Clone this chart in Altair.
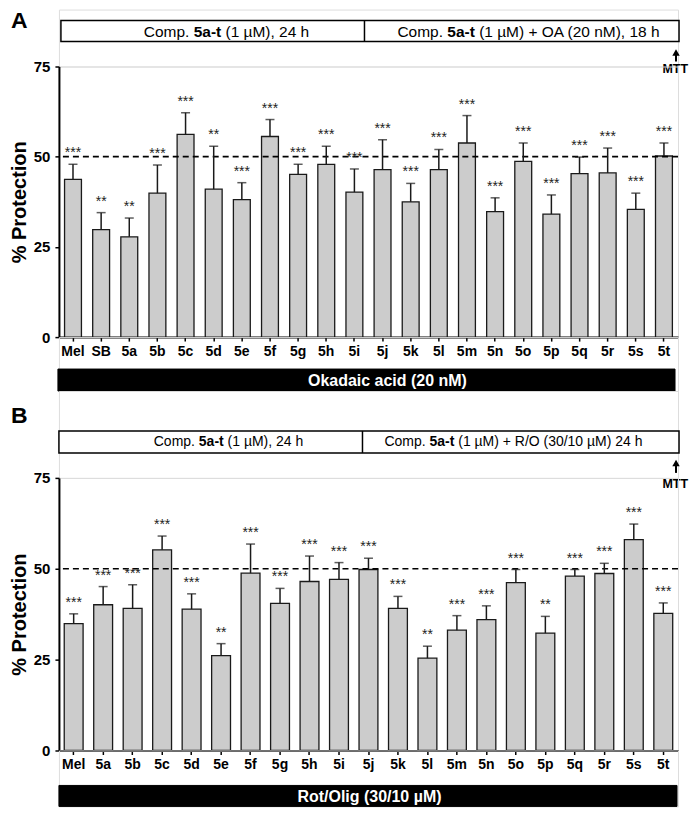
import altair as alt
import pandas as pd

FONT = "Liberation Sans, Arial, Helvetica, sans-serif"

# ---------------- data ----------------
labels_A = ["Mel", "SB", "5a", "5b", "5c", "5d", "5e", "5f", "5g", "5h", "5i",
            "5j", "5k", "5l", "5m", "5n", "5o", "5p", "5q", "5r", "5s", "5t"]
mean_A = [43.7, 29.8, 27.8, 39.9, 56.2, 41.0, 38.1, 55.6, 45.1, 47.9, 40.2,
          46.4, 37.5, 46.4, 53.8, 34.8, 48.7, 34.1, 45.3, 45.5, 35.4, 50.2]
err_A = [4.2, 4.7, 5.2, 7.8, 6.0, 11.9, 4.7, 4.7, 2.8, 5.0, 6.4,
         8.3, 5.1, 5.6, 7.6, 3.8, 5.1, 5.3, 4.6, 6.9, 4.5, 3.6]
sig_A = ["***", "**", "**", "***", "***", "**", "***", "***", "***", "***", "***",
         "***", "***", "***", "***", "***", "***", "***", "***", "***", "***", "***"]

labels_B = ["Mel", "5a", "5b", "5c", "5d", "5e", "5f", "5g", "5h", "5i", "5j",
            "5k", "5l", "5m", "5n", "5o", "5p", "5q", "5r", "5s", "5t"]
mean_B = [34.9, 40.1, 39.1, 55.2, 38.9, 26.1, 48.8, 40.5, 46.5, 47.1, 49.8,
          39.1, 25.4, 33.1, 36.0, 46.2, 32.3, 48.0, 48.7, 58.0, 37.7]
err_B = [2.7, 5.0, 6.5, 3.8, 4.2, 3.3, 8.0, 4.1, 7.0, 4.6, 3.1,
         3.3, 3.3, 4.0, 3.8, 3.6, 4.6, 1.8, 2.8, 4.3, 2.9]
sig_B = ["***", "***", "***", "***", "***", "**", "***", "***", "***", "***", "***",
         "***", "**", "***", "***", "***", "**", "***", "***", "***", "***"]

y_ticks = [0, 25, 50, 75]
threshold = [50]

header_A = [("Comp. ", False), ("5a-t", True), (" (1 \u00b5M), 24 h", False)]
header_A2 = [("Comp. ", False), ("5a-t", True), (" (1 \u00b5M) +  OA (20 nM), 18 h", False)]
header_B = [("Comp. ", False), ("5a-t", True), (" (1 \u00b5M), 24 h", False)]
header_B2 = [("Comp. ", False), ("5a-t", True), (" (1 \u00b5M) + R/O (30/10 \u00b5M) 24 h", False)]

W = 620

# approximate Arial advance widths (per 1000 em) used to chain text pieces
REG = {'C': 722, 'o': 556, 'm': 833, 'p': 556, '.': 278, ' ': 278, '(': 333, ')': 333,
       '\u00b5': 576, 'M': 833, ',': 278, 'h': 556, '+': 584, 'O': 778, 'A': 667,
       'n': 556, 'R': 722, '/': 278}
BOLD = {'5': 556, 'a': 556, '-': 333, 't': 333, ' ': 278}


def text_width(s, fs, bold):
    tbl = BOLD if bold else REG
    return sum(tbl.get(ch, 556) for ch in s) * fs / 1000.0


def one():
    return alt.Chart(pd.DataFrame({"k": [0]}))


def bar_panel(labels, means, errs, sigs, height, pad_inner):
    df = pd.DataFrame({
        "label": labels,
        "mean": means,
        "top": [m + e for m, e in zip(means, errs)],
        "sig": sigs,
    })
    xenc = alt.X(
        "label:N", sort=labels,
        scale=alt.Scale(paddingInner=pad_inner, paddingOuter=pad_inner / 2),
        axis=alt.Axis(title=None, labelAngle=0, labelFontSize=14, labelFontWeight="bold",
                      labelColor="black", labelFont=FONT, tickColor="black", tickSize=4,
                      tickWidth=1.5, domainColor="black", domainWidth=2, labelPadding=3),
    )
    yenc = alt.Y(
        "mean:Q",
        scale=alt.Scale(domain=[0, 75], nice=False),
        axis=alt.Axis(values=y_ticks, title="% Protection", titleFontSize=20,
                      titleFontWeight="bold", titleColor="black", titleFont=FONT,
                      titlePadding=4, labelFontSize=15, labelFontWeight="bold",
                      labelColor="black", labelFont=FONT, tickColor="black", tickSize=4,
                      tickWidth=1.5, domainColor="black", domainWidth=2, labelPadding=5,
                      grid=False),
    )
    xs = alt.X("label:N", sort=labels)
    base = alt.Chart(df)
    bars = base.mark_bar(fill="#cccccc", stroke="#1a1a1a", strokeWidth=1.3).encode(x=xenc, y=yenc)
    err = base.mark_rule(color="#1a1a1a", strokeWidth=1.5).encode(x=xs, y="mean:Q", y2="top:Q")
    cap = base.mark_tick(color="#1a1a1a", thickness=1.5, size=9).encode(x=xs, y="top:Q")
    stars = base.mark_text(dy=-7, baseline="alphabetic", fontSize=14, font=FONT,
                           color="#222222").encode(x=xs, y="top:Q", text="sig:N")
    ref = alt.Chart(pd.DataFrame({"v": threshold})).mark_rule(
        strokeDash=[6, 4], strokeWidth=1.7, color="black").encode(y="v:Q")
    return alt.layer(bars, ref, err, cap, stars).properties(width=W, height=height)


def header(letter, letter_y, y0, y1, x0, x1, xdiv, halves, fs, ay0, ay1, mtt_y, height):
    layers = [
        one().mark_text(align="left", baseline="top", fontSize=23, fontWeight="bold",
                        font=FONT, color="black").encode(
            x=alt.value(-48), y=alt.value(letter_y), text=alt.value(letter)),
        one().mark_rect(fill="white", stroke="black", strokeWidth=1.5).encode(
            x=alt.value(x0), x2=alt.value(x1), y=alt.value(y0), y2=alt.value(y1)),
        one().mark_rule(color="black", strokeWidth=1.5).encode(
            x=alt.value(xdiv), y=alt.value(y0), y2=alt.value(y1)),
    ]
    ym = (y0 + y1) / 2 + 0.5
    for start, pieces in halves:
        px = start
        for txt, bold in pieces:
            lead = len(txt) - len(txt.lstrip(" "))
            shown = txt.strip(" ")
            x_here = px + text_width(" " * lead, fs, bold)
            layers.append(one().mark_text(align="left", baseline="middle", fontSize=fs,
                                          fontWeight="bold" if bold else "normal",
                                          font=FONT, color="black").encode(
                x=alt.value(x_here), y=alt.value(ym), text=alt.value(shown)))
            px += text_width(txt, fs, bold)
    ax = W - 2
    layers += [
        one().mark_rule(color="black", strokeWidth=2).encode(
            x=alt.value(ax), y=alt.value(ay0 + 4), y2=alt.value(ay1)),
        one().mark_point(shape="triangle-up", size=55, filled=True, color="black",
                         opacity=1).encode(x=alt.value(ax), y=alt.value(ay0 + 3)),
        one().mark_text(align="right", baseline="top", fontSize=12.5, fontWeight="bold",
                        font=FONT, color="black").encode(
            x=alt.value(W + 10), y=alt.value(mtt_y), text=alt.value("MTT")),
    ]
    return alt.layer(*layers).properties(width=W, height=height)


def black_bar(y0, y1, x0, x1, text, tx, fs, height):
    rect = one().mark_rect(fill="black", stroke="black").encode(
        x=alt.value(x0), x2=alt.value(x1), y=alt.value(y0), y2=alt.value(y1))
    lab = one().mark_text(align="center", baseline="middle", fontSize=fs, fontWeight="bold",
                          font=FONT, color="white").encode(
        x=alt.value(tx), y=alt.value((y0 + y1) / 2 + 1), text=alt.value(text))
    return alt.layer(rect, lab).properties(width=W, height=height)


headA = header("A", 0, 11, 32, 2, W + 1, 306,
               [(85, header_A), (339, header_A2)], 15.5, 40, 52, 54, 57)
plotA = bar_panel(labels_A, mean_A, err_A, sig_A, 271, 0.4)
blackA = black_bar(32, 54, -1, W - 3, "Okadaic acid (20 nM)", 329, 16, 54)

headB = header("B", 14, 40, 62, 0, W + 1, 304,
               [(95, header_B), (326, header_B2)], 14, 69, 82, 87, 87)
plotB = bar_panel(labels_B, mean_B, err_B, sig_B, 273, 0.36)
blackB = black_bar(35, 56, 0, W - 1, "Rot/Olig (30/10 \u00b5M)", 311, 16, 56)

chart = alt.vconcat(headA, plotA, blackA, headB, plotB, blackB,
                    spacing=0, bounds="flush").properties(
    padding=0
).configure_view(stroke=None).configure(background="white")

chart.save("out.html", embed_options={"renderer": "svg", "actions": False})
